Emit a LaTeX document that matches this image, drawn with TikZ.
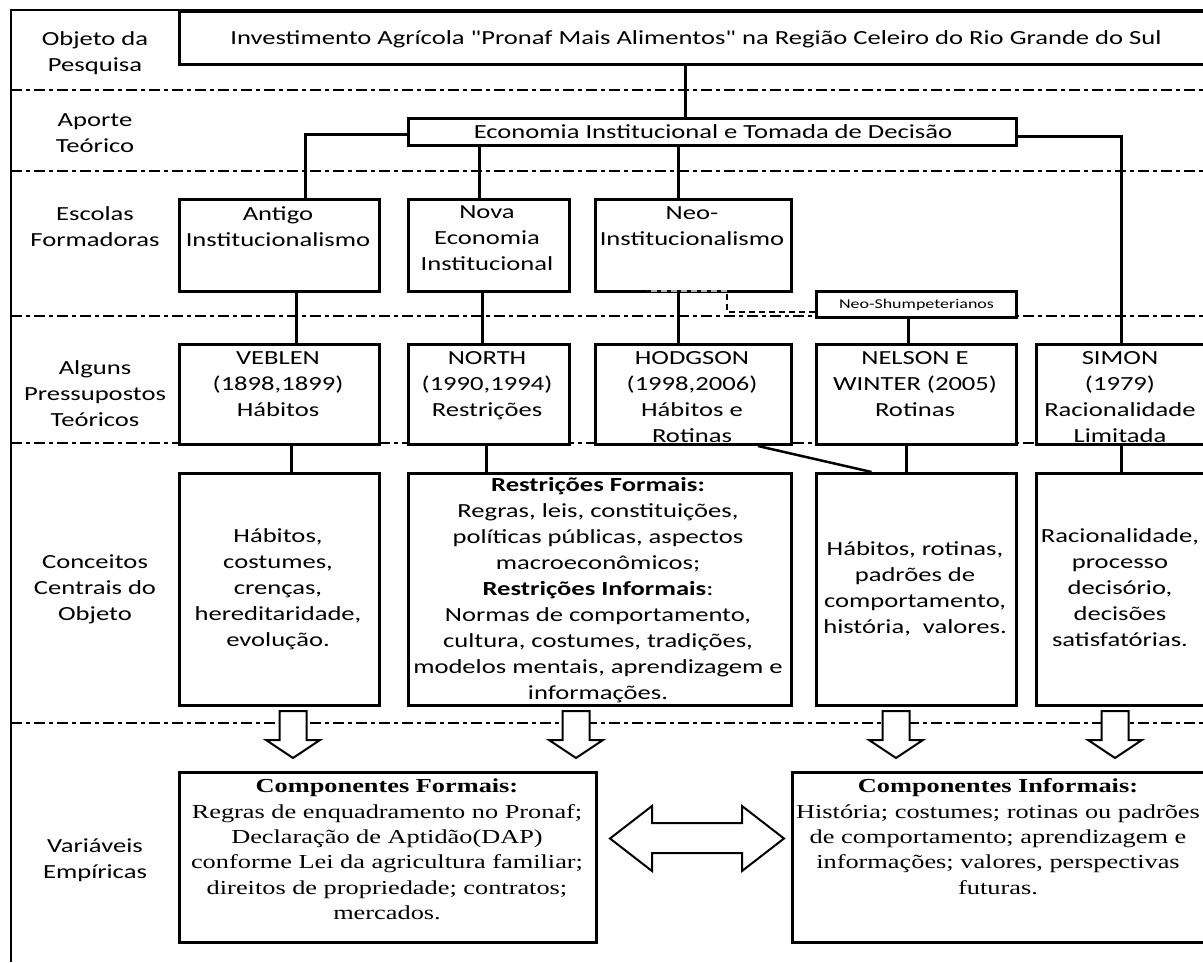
\documentclass[tikz,border=0pt]{standalone}
\usepackage{fontspec}
\setmainfont{Carlito}[FakeStretch=1.33]
\newfontfamily\calf{Carlito}[FakeStretch=1.33]
\newfontfamily\timf{Liberation Serif}[FakeStretch=1.33]
\usetikzlibrary{calc}
\tikzset{
  bx/.style={draw, line width=3pt, fill=white, inner sep=0pt, anchor=north west},
  txt/.style={align=center, inner sep=0pt, anchor=north, font=\calf\fontsize{20}{26}\selectfont},
  ttxt/.style={align=center, inner sep=0pt, anchor=north, font=\timf\fontsize{19.8}{25.3}\selectfont},
  conn/.style={line width=3pt},
  dd/.style={line width=2pt, dash pattern=on 11pt off 4pt on 4pt off 4pt},
  blk/.style={draw, line width=2pt, fill=white, line join=miter},
  downarr/.pic={\path[blk] (-13.5,0) -- (13.5,0) -- (13.5,29) -- (27,29) -- (0,47) -- (-27,29) -- (-13.5,29) -- cycle;}
}
\begin{document}
\begin{tikzpicture}[x=1pt,y=-1pt]
\useasboundingbox (0,0) rectangle (1203,962);
\clip (0,0) rectangle (1203,962);
\fill[white] (0,0) rectangle (1203,962);

% separator lines
\foreach \yy in {90,171,316,443,723} \draw[dd] (11,\yy) -- (1203,\yy);
% outer frame
\draw[line width=2.5pt] (11,962) -- (11,10) -- (1203,10);

% boxes
\node[bx, minimum width=1036pt, minimum height=53pt] (top) at (178,10) {};
\node[bx, minimum width=608pt, minimum height=27pt] (eco) at (407,117) {};
\node[bx, minimum width=200pt, minimum height=92pt] (ant) at (178,198) {};
\node[bx, minimum width=161pt, minimum height=92pt] (nova) at (407,198) {};
\node[bx, minimum width=196pt, minimum height=92pt] (neo) at (594,198) {};
\node[bx, minimum width=200pt, minimum height=26pt, font=\calf\fontsize{13.5}{16}\selectfont] (nsh) at (815,290) {Neo-Shumpeterianos};
\node[bx, minimum width=200pt, minimum height=100pt] (veb) at (178,343) {};
\node[bx, minimum width=161pt, minimum height=100pt] (nor) at (407,343) {};
\node[bx, minimum width=196pt, minimum height=100pt] (hod) at (594,343) {};
\node[bx, minimum width=200pt, minimum height=100pt] (nel) at (815,343) {};
\node[bx, minimum width=170pt, minimum height=100pt] (sim) at (1035,343) {};
\node[bx, minimum width=200pt, minimum height=232pt] (c1) at (178,472) {};
\node[bx, minimum width=383pt, minimum height=232pt] (c2) at (407,472) {};
\node[bx, minimum width=200pt, minimum height=232pt] (c3) at (815,472) {};
\node[bx, minimum width=170pt, minimum height=232pt] (c4) at (1035,472) {};
\node[bx, minimum width=417pt, minimum height=170pt] (cf) at (178,771) {};
\node[bx, minimum width=415pt, minimum height=170pt] (ci) at (791,771) {};

% connectors
\draw[conn] ([xshift=-12pt]top.south) -- ([xshift=-12pt]top.south |- eco.north);
\draw[conn] ([yshift=-2.5pt]eco.west) -| ([xshift=26pt]ant.north);
\draw[conn] ([xshift=-10pt]nova.north) -- ([xshift=-10pt]nova.north |- eco.south);
\draw[conn] ([xshift=-15pt]neo.north) -- ([xshift=-15pt]neo.north |- eco.south);
\draw[conn] ([yshift=-4.5pt]eco.east) -| (sim.north);
\draw[conn] ([xshift=17pt]ant.south) -- ([xshift=17pt]ant.south |- veb.north);
\draw[conn] ([xshift=-6.5pt]nova.south) -- ([xshift=-6.5pt]nova.south |- nor.north);
\draw[conn] ([xshift=-15pt]neo.south) -- ([xshift=-15pt]neo.south |- hod.north);
\draw[conn] ([xshift=-8pt]nsh.south) -- ([xshift=-8pt]nsh.south |- nel.north);
\draw[conn] ([xshift=12pt]veb.south) -- ([xshift=12pt]veb.south |- c1.north);
\draw[conn] ([xshift=-2.5pt]nor.south) -- ([xshift=-2.5pt]nor.south |- c2.north);
\draw[conn] ([xshift=-10pt]nel.south) -- ([xshift=-10pt]nel.south |- c3.north);
\draw[conn] (sim.south) -- (c4.north);
\draw[line width=2.5pt] ([xshift=-35pt]hod.south east) -- ([xshift=-45pt]c3.north);
\draw[dashed, line width=2pt, dash pattern=on 6pt off 4pt] ([yshift=-7pt]nsh.west) -| ([xshift=33pt]neo.south);
\draw[gray!60, line width=1.5pt, dash pattern=on 6pt off 4pt] ([xshift=33pt,yshift=2pt]neo.south) -- ([xshift=-47pt,yshift=2pt]neo.south);

% row labels
\node[txt] (l1) at (95,27) {\strut Objeto da\\Pesquisa};
\node[txt] (l2) at (95,108) {\strut Aporte\\Teórico};
\node[txt] (l3) at (95,202) {\strut Escolas\\Formadoras};
\node[txt] (l4) at (95,356) {\strut Alguns\\Pressupostos\\Teóricos};
\node[txt] (l5) at (95,550) {\strut Conceitos\\Centrais do\\Objeto};
\node[txt] (l6) at (95,834) {\strut Variáveis\\Empíricas};

% box texts
\node[txt] (t-top) at (696,26) {\strut Investimento Agrícola "Pronaf Mais Alimentos" na Região Celeiro do Rio Grande do Sul};
\node[txt] (t-eco) at (713,120) {\strut Economia Institucional e Tomada de Decisão};
\node[txt] (t-ant) at (278,202) {\strut Antigo\\Institucionalismo};
\node[txt] (t-nova) at (487,200) {\strut Nova\\Economia\\Institucional};
\node[txt] (t-neo) at (692,201) {\strut Neo-\\Institucionalismo};
\node[txt] (t-veb) at (278,346) {\strut VEBLEN\\(1898,1899)\\Hábitos};
\node[txt] (t-nor) at (487,346) {\strut NORTH\\(1990,1994)\\Restrições};
\node[txt] (t-hod) at (692,346) {\strut HODGSON\\(1998,2006)\\Hábitos e\\Rotinas};
\node[txt] (t-nel) at (915,346) {\strut NELSON E\\WINTER (2005)\\Rotinas};
\node[txt] (t-sim) at (1120,346) {\strut SIMON\\(1979)\\Racionalidade\\Limitada};
\node[txt] (t-c1) at (278,524) {\strut Hábitos,\\costumes,\\crenças,\\hereditaridade,\\evolução.};
\node[txt] (t-c2) at (598,473) {\strut\textbf{Restrições Formais:}\\Regras, leis, constituições,\\políticas públicas, aspectos\\macroeconômicos;\\\textbf{Restrições Informais}:\\Normas de comportamento,\\cultura, costumes, tradições,\\modelos mentais, aprendizagem e\\informações.};
\node[txt] (t-c3) at (915,537) {\strut Hábitos, rotinas,\\padrões de\\comportamento,\\história,\ \ valores.};
\node[txt] (t-c4) at (1120,524) {\strut Racionalidade,\\processo\\decisório,\\decisões\\satisfatórias.};
\node[ttxt] (t-cf) at (387,775) {\strut\textbf{Componentes Formais:}\\Regras de enquadramento no Pronaf;\\Declaração de Aptidão(DAP)\\conforme Lei da agricultura familiar;\\direitos de propriedade; contratos;\\mercados.};
\node[ttxt] (t-ci) at (998,775) {\strut\textbf{Componentes Informais:}\\História; costumes; rotinas ou padrões\\de comportamento; aprendizagem e\\informações; valores, perspectivas\\futuras.};

% block arrows
\pic at (293,711) {downarr};
\pic at (576,711) {downarr};
\pic at (896,711) {downarr};
\pic at (1115,711) {downarr};
\path[blk] (610,838.5) -- (652,806) -- (652,823) -- (742,823) -- (742,806) -- (784,838.5) -- (742,871) -- (742,853) -- (652,853) -- (652,871) -- cycle;
\end{tikzpicture}
\end{document}
